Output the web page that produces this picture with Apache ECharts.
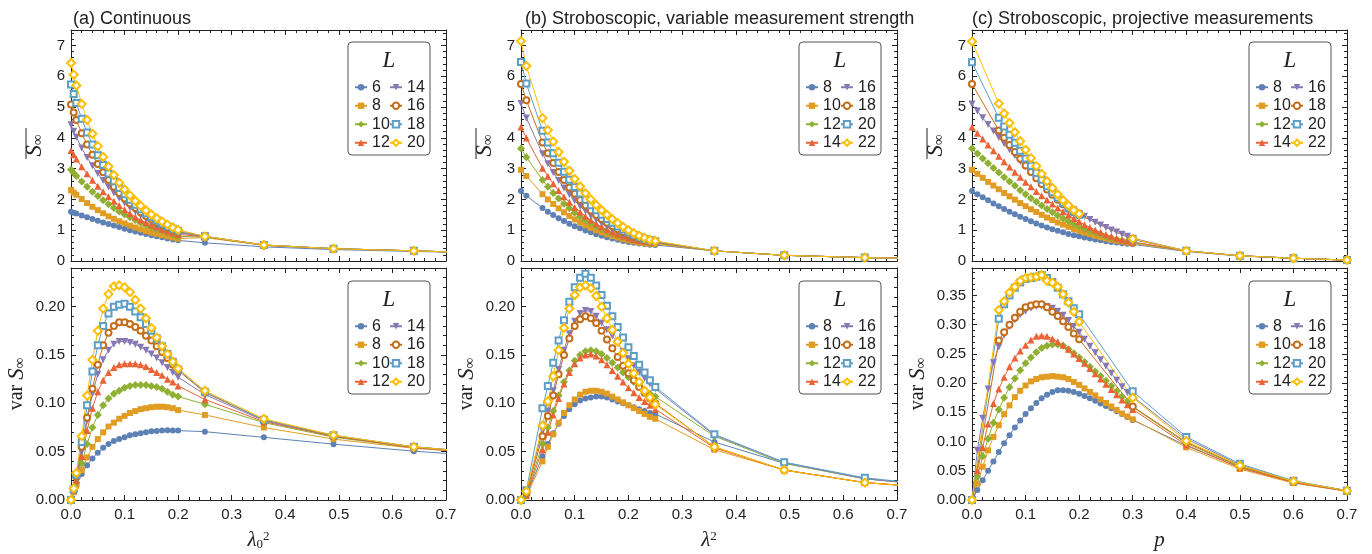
<!DOCTYPE html>
<html>
<head>
<meta charset="utf-8">
<script src="https://cdn.jsdelivr.net/npm/echarts@6/dist/echarts.min.js"></script>
<style>
  html, body { margin: 0; padding: 0; background: #fff; }
  #chart { width: 1372px; height: 554px; }
</style>
</head>
<body>
<div id="chart"></div>
<script>
// x grids (lambda0^2, lambda^2, p)
const xA = [0, 0.005, 0.01, 0.02, 0.03, 0.04, 0.05, 0.06, 0.07, 0.08, 0.09, 0.10, 0.11, 0.12, 0.13, 0.14, 0.15, 0.16, 0.17, 0.18, 0.19, 0.20, 0.25, 0.36, 0.49, 0.64, 0.81]
const xB = [0, 0.01, 0.04, 0.05, 0.06, 0.07, 0.08, 0.09, 0.10, 0.11, 0.12, 0.13, 0.14, 0.15, 0.16, 0.17, 0.18, 0.19, 0.20, 0.21, 0.22, 0.23, 0.24, 0.25, 0.36, 0.49, 0.64, 0.81]
const xC = [0, 0.01, 0.02, 0.03, 0.04, 0.05, 0.06, 0.07, 0.08, 0.09, 0.10, 0.11, 0.12, 0.13, 0.14, 0.15, 0.16, 0.17, 0.18, 0.19, 0.20, 0.21, 0.22, 0.23, 0.24, 0.25, 0.26, 0.27, 0.28, 0.29, 0.30, 0.4, 0.5, 0.6, 0.7]
const xC2 = [0, 0.05, 0.06, 0.07, 0.08, 0.09, 0.10, 0.11, 0.12, 0.13, 0.14, 0.15, 0.16, 0.17, 0.18, 0.19, 0.20, 0.3, 0.4, 0.5, 0.6, 0.7]

const sizesA = [6, 8, 10, 12, 14, 16, 18, 20]
const sizesBC = [8, 10, 12, 14, 16, 18, 20, 22]

// (a) continuous, mean entropy
const meanA6 = [1.60, 1.57, 1.54, 1.48, 1.42, 1.36, 1.31, 1.25, 1.20, 1.15, 1.10, 1.05, 1.00, 0.96, 0.92, 0.88, 0.84, 0.80, 0.77, 0.73, 0.70, 0.67, 0.59, 0.46, 0.37, 0.31, 0.25]
const meanA8 = [2.30, 2.22, 2.15, 2.01, 1.88, 1.76, 1.65, 1.55, 1.45, 1.37, 1.29, 1.22, 1.15, 1.09, 1.03, 0.97, 0.92, 0.88, 0.84, 0.80, 0.76, 0.73, 0.76, 0.51, 0.40, 0.33, 0.24]
const meanA10 = [2.96, 2.86, 2.76, 2.58, 2.41, 2.25, 2.11, 1.97, 1.84, 1.72, 1.61, 1.51, 1.42, 1.33, 1.24, 1.16, 1.09, 1.03, 0.97, 0.91, 0.85, 0.80, 0.78, 0.51, 0.40, 0.33, 0.24]
const meanA12 = [3.59, 3.45, 3.31, 3.06, 2.83, 2.62, 2.43, 2.25, 2.09, 1.94, 1.80, 1.66, 1.54, 1.43, 1.33, 1.25, 1.17, 1.10, 1.03, 0.97, 0.91, 0.86, 0.79, 0.51, 0.40, 0.33, 0.24]
const meanA14 = [4.42, 4.21, 4.02, 3.67, 3.36, 3.09, 2.84, 2.61, 2.40, 2.21, 2.04, 1.88, 1.73, 1.60, 1.48, 1.37, 1.27, 1.18, 1.10, 1.03, 0.97, 0.91, 0.80, 0.52, 0.40, 0.33, 0.24]
const meanA16 = [5.08, 4.82, 4.58, 4.15, 3.78, 3.45, 3.15, 2.88, 2.63, 2.41, 2.21, 2.03, 1.87, 1.72, 1.58, 1.46, 1.35, 1.25, 1.16, 1.08, 1.01, 0.95, 0.80, 0.52, 0.40, 0.33, 0.24]
const meanA18 = [5.73, 5.42, 5.13, 4.62, 4.17, 3.78, 3.43, 3.12, 2.84, 2.59, 2.37, 2.17, 1.99, 1.83, 1.68, 1.55, 1.43, 1.32, 1.22, 1.13, 1.05, 0.98, 0.80, 0.52, 0.40, 0.33, 0.24]
const meanA20 = [6.43, 6.05, 5.70, 5.10, 4.58, 4.13, 3.73, 3.38, 3.07, 2.79, 2.54, 2.32, 2.13, 1.95, 1.79, 1.64, 1.51, 1.39, 1.28, 1.18, 1.09, 1.01, 0.80, 0.52, 0.40, 0.33, 0.24]

// (a) continuous, variance
const varA6 = [0, 0.008, 0.015, 0.027, 0.036, 0.043, 0.049, 0.054, 0.058, 0.061, 0.063, 0.065, 0.067, 0.068, 0.069, 0.070, 0.071, 0.0715, 0.072, 0.0722, 0.072, 0.0718, 0.0707, 0.0648, 0.0578, 0.0505, 0.044]
const varA8 = [0, 0.008, 0.016, 0.031, 0.044, 0.055, 0.063, 0.070, 0.076, 0.080, 0.084, 0.087, 0.090, 0.092, 0.094, 0.095, 0.096, 0.0965, 0.0965, 0.096, 0.095, 0.093, 0.088, 0.075, 0.063, 0.0535, 0.047]
const varA10 = [0, 0.009, 0.018, 0.038, 0.058, 0.075, 0.088, 0.098, 0.105, 0.110, 0.113, 0.116, 0.118, 0.119, 0.119, 0.119, 0.118, 0.117, 0.115, 0.112, 0.109, 0.107, 0.099, 0.080, 0.065, 0.054, 0.047]
const varA12 = [0, 0.010, 0.020, 0.045, 0.072, 0.095, 0.112, 0.124, 0.132, 0.137, 0.140, 0.141, 0.141, 0.141, 0.140, 0.138, 0.135, 0.132, 0.129, 0.125, 0.122, 0.118, 0.104, 0.081, 0.066, 0.054, 0.047]
const varA14 = [0, 0.010, 0.022, 0.050, 0.082, 0.110, 0.130, 0.145, 0.155, 0.161, 0.164, 0.164, 0.163, 0.161, 0.158, 0.155, 0.151, 0.147, 0.142, 0.137, 0.132, 0.127, 0.109, 0.082, 0.066, 0.055, 0.047]
const varA16 = [0, 0.011, 0.024, 0.055, 0.085, 0.115, 0.140, 0.160, 0.173, 0.180, 0.184, 0.184, 0.182, 0.179, 0.175, 0.170, 0.165, 0.159, 0.153, 0.147, 0.140, 0.134, 0.111, 0.083, 0.066, 0.055, 0.047]
const varA18 = [0, 0.011, 0.026, 0.060, 0.098, 0.133, 0.160, 0.180, 0.193, 0.200, 0.202, 0.203, 0.200, 0.195, 0.189, 0.182, 0.175, 0.167, 0.159, 0.151, 0.143, 0.135, 0.112, 0.083, 0.067, 0.055, 0.047]
const varA20 = [0, 0.012, 0.028, 0.066, 0.108, 0.145, 0.175, 0.198, 0.213, 0.221, 0.222, 0.220, 0.215, 0.207, 0.198, 0.188, 0.178, 0.168, 0.159, 0.151, 0.143, 0.136, 0.113, 0.084, 0.067, 0.055, 0.047]

// (b) stroboscopic, variable strength, mean entropy
const meanB8 = [2.27, 2.12, 1.72, 1.60, 1.49, 1.39, 1.30, 1.21, 1.13, 1.06, 0.99, 0.93, 0.87, 0.82, 0.77, 0.73, 0.69, 0.65, 0.62, 0.59, 0.57, 0.55, 0.53, 0.52, 0.33, 0.185, 0.11, 0.06]
const meanB10 = [2.96, 2.76, 2.17, 2.00, 1.85, 1.71, 1.58, 1.46, 1.35, 1.25, 1.16, 1.08, 1.00, 0.93, 0.87, 0.81, 0.76, 0.71, 0.67, 0.63, 0.60, 0.58, 0.56, 0.55, 0.33, 0.185, 0.11, 0.06]
const meanB12 = [3.65, 3.37, 2.63, 2.41, 2.21, 2.03, 1.86, 1.71, 1.57, 1.44, 1.32, 1.22, 1.12, 1.03, 0.95, 0.88, 0.82, 0.76, 0.71, 0.67, 0.64, 0.61, 0.59, 0.58, 0.33, 0.185, 0.11, 0.06]
const meanB14 = [4.35, 3.99, 3.01, 2.75, 2.51, 2.29, 2.09, 1.91, 1.74, 1.59, 1.45, 1.33, 1.21, 1.11, 1.02, 0.94, 0.87, 0.81, 0.75, 0.70, 0.67, 0.64, 0.62, 0.60, 0.33, 0.185, 0.11, 0.06]
const meanB16 = [5.11, 4.64, 3.48, 3.16, 2.87, 2.61, 2.37, 2.16, 1.96, 1.78, 1.62, 1.47, 1.34, 1.22, 1.11, 1.02, 0.94, 0.86, 0.80, 0.74, 0.70, 0.66, 0.64, 0.62, 0.33, 0.185, 0.11, 0.06]
const meanB18 = [5.75, 5.22, 3.85, 3.50, 3.18, 2.89, 2.63, 2.39, 2.18, 1.98, 1.80, 1.64, 1.49, 1.36, 1.24, 1.13, 1.03, 0.94, 0.86, 0.79, 0.74, 0.69, 0.66, 0.63, 0.33, 0.185, 0.11, 0.06]
const meanB20 = [6.46, 5.76, 4.23, 3.85, 3.50, 3.19, 2.90, 2.64, 2.40, 2.19, 1.99, 1.81, 1.65, 1.50, 1.36, 1.24, 1.12, 1.02, 0.93, 0.85, 0.78, 0.72, 0.68, 0.64, 0.33, 0.185, 0.11, 0.06]
const meanB22 = [7.14, 6.33, 4.64, 4.25, 3.88, 3.54, 3.22, 2.93, 2.66, 2.42, 2.20, 2.00, 1.82, 1.65, 1.50, 1.36, 1.23, 1.11, 1.00, 0.90, 0.82, 0.75, 0.69, 0.65, 0.33, 0.185, 0.11, 0.06]

// (b) variance
const varB8 = [0, 0.005, 0.045, 0.058, 0.069, 0.079, 0.087, 0.094, 0.099, 0.103, 0.105, 0.106, 0.107, 0.107, 0.106, 0.104, 0.102, 0.100, 0.098, 0.096, 0.094, 0.092, 0.090, 0.089, 0.060, 0.038, 0.022, 0.013]
const varB10 = [0, 0.004, 0.040, 0.055, 0.068, 0.080, 0.090, 0.098, 0.104, 0.109, 0.112, 0.113, 0.113, 0.112, 0.110, 0.107, 0.104, 0.101, 0.098, 0.095, 0.092, 0.089, 0.086, 0.084, 0.052, 0.031, 0.018, 0.011]
const varB12 = [0, 0.006, 0.058, 0.075, 0.092, 0.108, 0.122, 0.134, 0.144, 0.150, 0.154, 0.155, 0.154, 0.151, 0.147, 0.142, 0.137, 0.132, 0.127, 0.122, 0.118, 0.114, 0.110, 0.107, 0.066, 0.038, 0.022, 0.013]
const varB14 = [0, 0.005, 0.052, 0.070, 0.088, 0.105, 0.120, 0.132, 0.141, 0.147, 0.150, 0.151, 0.149, 0.145, 0.140, 0.134, 0.128, 0.122, 0.116, 0.111, 0.106, 0.102, 0.098, 0.094, 0.054, 0.031, 0.018, 0.011]
const varB16 = [0, 0.008, 0.072, 0.092, 0.113, 0.135, 0.155, 0.172, 0.185, 0.193, 0.196, 0.195, 0.190, 0.183, 0.176, 0.170, 0.162, 0.154, 0.146, 0.139, 0.132, 0.126, 0.120, 0.115, 0.067, 0.039, 0.022, 0.013]
const varB18 = [0, 0.007, 0.066, 0.087, 0.108, 0.130, 0.150, 0.167, 0.180, 0.187, 0.190, 0.188, 0.183, 0.175, 0.166, 0.157, 0.148, 0.139, 0.131, 0.124, 0.117, 0.111, 0.105, 0.100, 0.055, 0.031, 0.018, 0.011]
const varB20 = [0, 0.010, 0.095, 0.118, 0.142, 0.165, 0.186, 0.205, 0.220, 0.230, 0.234, 0.230, 0.222, 0.212, 0.201, 0.190, 0.179, 0.168, 0.158, 0.149, 0.140, 0.132, 0.124, 0.117, 0.068, 0.039, 0.023, 0.013]
const varB22 = [0, 0.009, 0.077, 0.102, 0.128, 0.155, 0.178, 0.198, 0.212, 0.220, 0.222, 0.219, 0.211, 0.200, 0.188, 0.176, 0.164, 0.152, 0.141, 0.131, 0.122, 0.113, 0.106, 0.099, 0.055, 0.031, 0.018, 0.011]

// (c) stroboscopic, projective, mean entropy (L = 18, 20, 22 on the coarse grid xC2)
const meanC8 = [2.27, 2.17, 2.07, 1.97, 1.87, 1.78, 1.69, 1.60, 1.52, 1.44, 1.36, 1.29, 1.22, 1.15, 1.09, 1.03, 0.98, 0.93, 0.88, 0.84, 0.80, 0.76, 0.73, 0.70, 0.67, 0.64, 0.62, 0.60, 0.58, 0.56, 0.54, 0.31, 0.16, 0.09, 0.03]
const meanC10 = [2.96, 2.83, 2.70, 2.57, 2.45, 2.33, 2.21, 2.10, 1.99, 1.88, 1.78, 1.68, 1.59, 1.50, 1.41, 1.33, 1.25, 1.18, 1.11, 1.04, 0.98, 0.92, 0.87, 0.82, 0.77, 0.73, 0.69, 0.66, 0.63, 0.60, 0.57, 0.32, 0.165, 0.09, 0.03]
const meanC12 = [3.65, 3.49, 3.33, 3.17, 3.02, 2.87, 2.72, 2.58, 2.44, 2.30, 2.17, 2.04, 1.92, 1.80, 1.69, 1.58, 1.48, 1.38, 1.29, 1.20, 1.12, 1.04, 0.97, 0.91, 0.85, 0.79, 0.74, 0.70, 0.66, 0.63, 0.60, 0.33, 0.17, 0.09, 0.03]
const meanC14 = [4.35, 4.15, 3.96, 3.77, 3.58, 3.40, 3.22, 3.05, 2.88, 2.72, 2.56, 2.41, 2.26, 2.12, 1.98, 1.85, 1.72, 1.60, 1.49, 1.38, 1.28, 1.18, 1.09, 1.01, 0.93, 0.86, 0.80, 0.74, 0.69, 0.65, 0.62, 0.33, 0.17, 0.09, 0.03]
const meanC16 = [5.10, 4.87, 4.65, 4.43, 4.22, 4.01, 3.81, 3.61, 3.42, 3.23, 3.05, 2.87, 2.70, 2.53, 2.37, 2.21, 2.06, 1.92, 1.78, 1.66, 1.55, 1.45, 1.35, 1.26, 1.17, 1.09, 1.01, 0.94, 0.87, 0.80, 0.74, 0.33, 0.17, 0.09, 0.03]
const meanC18 = [5.75, 4.24, 4.00, 3.77, 3.54, 3.32, 3.10, 2.89, 2.69, 2.50, 2.32, 2.15, 1.99, 1.84, 1.70, 1.58, 1.50, 0.70, 0.33, 0.17, 0.09, 0.03]
const meanC20 = [6.45, 4.65, 4.37, 4.10, 3.84, 3.58, 3.33, 3.09, 2.86, 2.64, 2.43, 2.23, 2.05, 1.88, 1.73, 1.60, 1.50, 0.71, 0.33, 0.17, 0.09, 0.03]
const meanC22 = [7.13, 5.11, 4.79, 4.48, 4.18, 3.89, 3.61, 3.34, 3.08, 2.83, 2.59, 2.37, 2.16, 1.97, 1.80, 1.65, 1.53, 0.72, 0.33, 0.17, 0.09, 0.03]

// (c) variance
const varC8 = [0, 0.017, 0.034, 0.050, 0.066, 0.082, 0.097, 0.111, 0.124, 0.136, 0.147, 0.157, 0.166, 0.174, 0.180, 0.185, 0.188, 0.188, 0.187, 0.185, 0.182, 0.178, 0.174, 0.170, 0.165, 0.161, 0.157, 0.152, 0.147, 0.142, 0.137, 0.093, 0.056, 0.030, 0.015]
const varC10 = [0, 0.028, 0.057, 0.085, 0.108, 0.128, 0.147, 0.162, 0.176, 0.187, 0.196, 0.203, 0.207, 0.210, 0.211, 0.212, 0.211, 0.210, 0.207, 0.202, 0.197, 0.191, 0.185, 0.179, 0.172, 0.166, 0.160, 0.154, 0.148, 0.143, 0.138, 0.090, 0.053, 0.029, 0.015]
const varC12 = [0, 0.040, 0.075, 0.105, 0.132, 0.155, 0.175, 0.193, 0.208, 0.222, 0.234, 0.244, 0.253, 0.260, 0.264, 0.266, 0.266, 0.264, 0.258, 0.251, 0.244, 0.236, 0.228, 0.220, 0.212, 0.204, 0.195, 0.186, 0.177, 0.168, 0.159, 0.097, 0.057, 0.031, 0.016]
const varC14 = [0, 0.050, 0.090, 0.130, 0.165, 0.190, 0.210, 0.228, 0.243, 0.255, 0.265, 0.274, 0.280, 0.281, 0.280, 0.276, 0.271, 0.265, 0.258, 0.250, 0.242, 0.234, 0.225, 0.216, 0.207, 0.198, 0.189, 0.180, 0.171, 0.163, 0.155, 0.094, 0.055, 0.030, 0.015]
const varC16 = [0, 0.085, 0.140, 0.190, 0.235, 0.262, 0.282, 0.297, 0.308, 0.317, 0.323, 0.328, 0.331, 0.332, 0.331, 0.328, 0.323, 0.316, 0.307, 0.297, 0.287, 0.275, 0.263, 0.252, 0.240, 0.229, 0.217, 0.205, 0.194, 0.184, 0.177, 0.105, 0.060, 0.032, 0.016]
const varC18 = [0, 0.273, 0.287, 0.300, 0.312, 0.322, 0.330, 0.333, 0.335, 0.335, 0.330, 0.322, 0.315, 0.306, 0.296, 0.285, 0.275, 0.160, 0.099, 0.058, 0.031, 0.016]
const varC20 = [0, 0.310, 0.335, 0.350, 0.363, 0.372, 0.378, 0.380, 0.382, 0.385, 0.380, 0.373, 0.363, 0.352, 0.340, 0.328, 0.318, 0.186, 0.108, 0.062, 0.033, 0.016]
const varC22 = [0, 0.325, 0.340, 0.355, 0.365, 0.375, 0.380, 0.381, 0.382, 0.385, 0.375, 0.372, 0.365, 0.352, 0.338, 0.322, 0.305, 0.175, 0.101, 0.059, 0.032, 0.016]

const titles = ['(a) Continuous', '(b) Stroboscopic, variable measurement strength', '(c) Stroboscopic, projective measurements']

const colors = ['#5E81B5', '#E19C24', '#8FB032', '#EB6235', '#8778B3', '#C56E1A', '#5D9EC7', '#FFBF00']
const symbols = ['circle', 'rect', 'diamond', 'triangle', 'triangle', 'emptyCircle', 'emptyRect', 'emptyDiamond']
const symSizes = [6, 6, 8, 7, 7, 6, 6, 8]

const ink = '#222'
const sans = 'Liberation Sans, Arial, sans-serif'
const serif = 'Liberation Serif, Times New Roman, serif'

// panel geometry: columns a, b, c ; rows mean (top), var (bottom)
const colLeft = [71, 521, 972]
const colWidth = [375, 376, 375]
const rowTop = [30, 268]
const rowHeight = [231, 232]

const panels = [
  { col: 0, row: 0, key: 'a', x: [xA], ys: [meanA6, meanA8, meanA10, meanA12, meanA14, meanA16, meanA18, meanA20], L: sizesA },
  { col: 0, row: 1, key: 'a', x: [xA], ys: [varA6, varA8, varA10, varA12, varA14, varA16, varA18, varA20], L: sizesA },
  { col: 1, row: 0, key: 'b', x: [xB], ys: [meanB8, meanB10, meanB12, meanB14, meanB16, meanB18, meanB20, meanB22], L: sizesBC },
  { col: 1, row: 1, key: 'b', x: [xB], ys: [varB8, varB10, varB12, varB14, varB16, varB18, varB20, varB22], L: sizesBC },
  { col: 2, row: 0, key: 'c', x: [xC, xC2], ys: [meanC8, meanC10, meanC12, meanC14, meanC16, meanC18, meanC20, meanC22], L: sizesBC },
  { col: 2, row: 1, key: 'c', x: [xC, xC2], ys: [varC8, varC10, varC12, varC14, varC16, varC18, varC20, varC22], L: sizesBC }
]

const xNames = [
  '{l|λ}{sb|0}{sp|2}',
  '{l|λ}{sp|2}',
  '{l|p}'
]

function pairs(xs, ys) {
  return xs.map((x, i) => [x, ys[i]])
}

const grid = [], xAxis = [], yAxis = [], series = [], legend = [], graphic = [], title = []

panels.forEach((p, i) => {
  grid.push({ left: colLeft[p.col], top: rowTop[p.row], width: colWidth[p.col], height: rowHeight[p.row] })

  const tick = { show: true, inside: true, length: 5, lineStyle: { color: ink, width: 1 } }
  const minor = { show: true, splitNumber: 5, length: 3, lineStyle: { color: ink, width: 1 } }
  const line = { show: true, onZero: false, lineStyle: { color: ink, width: 1 } }

  const xBase = { type: 'value', gridIndex: i, min: 0, max: 0.7, interval: 0.1,
    axisLine: line, axisTick: tick, minorTick: minor, splitLine: { show: false } }
  xAxis.push(Object.assign({}, xBase, {
    position: 'bottom',
    axisLabel: { show: p.row === 1, margin: 7, color: ink, fontSize: 15, fontFamily: sans,
      formatter: v => v.toFixed(1) },
    name: p.row === 1 ? xNames[p.col] : '',
    nameLocation: 'middle', nameGap: 30,
    nameTextStyle: { color: ink, rich: {
      l: { fontFamily: serif, fontStyle: 'italic', fontSize: 21 },
      sp: { fontFamily: serif, fontSize: 13, verticalAlign: 'top', lineHeight: 14 },
      sb: { fontFamily: serif, fontSize: 13, verticalAlign: 'bottom', lineHeight: 8 }
    } }
  }))
  xAxis.push(Object.assign({}, xBase, { position: 'top', axisLabel: { show: false } }))

  let yMax, yInt, fmt
  if (p.row === 0) { yMax = 7.5; yInt = 1; fmt = v => Number.isInteger(v) ? String(v) : '' }
  else if (p.col === 2) { yMax = 0.397; yInt = 0.05; fmt = v => v.toFixed(2) }
  else { yMax = 0.24; yInt = 0.05; fmt = v => v.toFixed(2) }

  const yBase = { type: 'value', gridIndex: i, min: 0, max: yMax, interval: yInt,
    axisLine: line, axisTick: tick, minorTick: minor, splitLine: { show: false } }
  yAxis.push(Object.assign({}, yBase, {
    position: 'left',
    axisLabel: { margin: 6, color: ink, fontSize: 15, fontFamily: sans, formatter: fmt, showMaxLabel: false },
    name: p.row === 0 ? '{s|S}{sb|∞}' : '{v|var }{s|S}{sb|∞}',
    nameLocation: 'middle', nameRotate: 90, nameGap: p.row === 0 ? 25 : 43,
    nameTextStyle: { color: ink, rich: {
      v: { fontFamily: serif, fontSize: 20 },
      s: { fontFamily: serif, fontStyle: 'italic', fontSize: 23 },
      sb: { fontFamily: serif, fontSize: 15, verticalAlign: 'bottom', lineHeight: 8 }
    } }
  }))
  yAxis.push(Object.assign({}, yBase, { position: 'right', axisLabel: { show: false } }))

  const names = []
  p.ys.forEach((ys, k) => {
    const name = p.key + p.L[k]
    names.push(name)
    const xs = (p.x.length > 1 && k >= 5) ? p.x[1] : p.x[0]
    const empty = symbols[k].startsWith('empty')
    series.push({
      type: 'line', name: name, xAxisIndex: 2 * i, yAxisIndex: 2 * i,
      data: pairs(xs, ys),
      symbol: symbols[k], symbolSize: symSizes[k], symbolRotate: k === 4 ? 180 : 0,
      showAllSymbol: true,
      lineStyle: { color: colors[k], width: 1 },
      itemStyle: { color: colors[k], borderColor: colors[k], borderWidth: empty ? 1 : 0 },
      emphasis: { disabled: true },
      animation: false
    })
  })

  // legend box
  const bl = colLeft[p.col] + colWidth[p.col] - 98
  const bt = p.row === 0 ? 42 : 281
  graphic.push({ type: 'rect', z: 3, shape: { x: bl, y: bt, width: 82, height: 113, r: 4 },
    style: { fill: '#fff', stroke: '#555', lineWidth: 1 } })
  graphic.push({ type: 'text', z: 5, x: bl + 41, y: bt + 19,
    style: { text: 'L', fontFamily: serif, fontStyle: 'italic', fontSize: 23, fill: ink, align: 'center', verticalAlign: 'middle' } })

  const legBase = { orient: 'vertical', padding: 0, itemGap: 0, itemWidth: 12, itemHeight: 8, top: bt + 36, z: 6,
    formatter: n => n.slice(1), selectedMode: false,
    textStyle: { fontSize: 16, fontFamily: sans, color: ink, lineHeight: 18.5 } }
  legend.push(Object.assign({}, legBase, { left: bl + 6, data: names.slice(0, 4) }))
  legend.push(Object.assign({}, legBase, { left: bl + 41, data: names.slice(4) }))

  // overline on the mean entropy label
  if (p.row === 0) {
    const lx = colLeft[p.col] - 45
    graphic.push({ type: 'line', z: 5, shape: { x1: lx, y1: 128, x2: lx, y2: 159 }, style: { stroke: ink, lineWidth: 1 } })
  }
})

titles.forEach((t, c) => {
  title.push({ text: t, left: [68, 520, 967][c], top: 5,
    textStyle: { fontSize: 18, fontWeight: 'normal', fontFamily: sans, color: ink } })
})

const chart = echarts.init(document.getElementById('chart'))
chart.setOption({
  backgroundColor: '#fff',
  animation: false,
  title, grid, xAxis, yAxis, series, legend, graphic
})
</script>
</body>
</html>
